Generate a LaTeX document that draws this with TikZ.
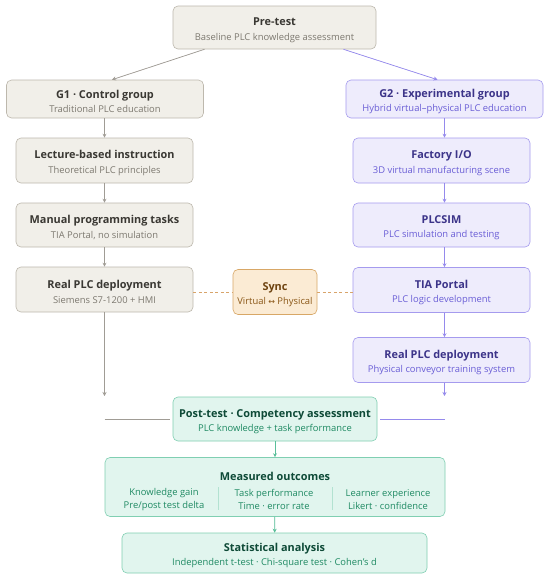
\documentclass[tikz,border=0pt]{standalone}
\usepackage{fontspec}
\setmainfont{Open Sans}
\newfontfamily\symfont{DejaVu Sans}
\usetikzlibrary{arrows.meta,calc}
\definecolor{grayf}{HTML}{F1EFE9}
\definecolor{grayd}{HTML}{BDB8AD}
\definecolor{grayt}{HTML}{3A3833}
\definecolor{grays}{HTML}{7D7970}
\definecolor{grayl}{HTML}{A09C95}
\definecolor{purf}{HTML}{EEECFC}
\definecolor{purd}{HTML}{A59BEE}
\definecolor{purt}{HTML}{3C3489}
\definecolor{purs}{HTML}{6A5ED6}
\definecolor{purl}{HTML}{958AEC}
\definecolor{synf}{HTML}{FBEBD4}
\definecolor{synd}{HTML}{D8A766}
\definecolor{synt}{HTML}{6E4310}
\definecolor{syns}{HTML}{8A5717}
\definecolor{synl}{HTML}{D8A46A}
\definecolor{grnf}{HTML}{E1F5EE}
\definecolor{grnd}{HTML}{80CFB2}
\definecolor{grnt}{HTML}{0E4A37}
\definecolor{grns}{HTML}{1F8A63}
\definecolor{grnl}{HTML}{5BBF9A}
\newcommand{\bx}[3]{{\color{#1t}\fontsize{10.9}{12}\selectfont\bfseries\rule{0pt}{13.5pt}#2}\\[2.5pt]{\color{#1s}\fontsize{9.4}{10}\selectfont #3}}
\newcommand{\sm}[2]{{\color{#1}\fontsize{9.4}{10}\selectfont #2}}
\tikzset{
  x=1pt, y=-1pt,
  box/.style={rounded corners=5pt, line width=0.6pt, align=center, inner sep=0pt},
  gbox/.style={box, fill=grayf, draw=grayd},
  pbox/.style={box, fill=purf, draw=purd},
  sbox/.style={box, fill=synf, draw=synd},
  ebox/.style={box, fill=grnf, draw=grnd},
  tip/.style={-{Stealth[length=4pt,width=4pt]}},
  garr/.style={tip, draw=grayl, fill=grayl, line width=0.7pt},
  parr/.style={tip, draw=purl, fill=purl, line width=0.7pt},
  earr/.style={tip, draw=grnl, fill=grnl, line width=0.7pt},
  dsh/.style={draw=synl, dashed, dash pattern=on 3pt off 2.5pt, line width=0.7pt},
}
\begin{document}
\begin{tikzpicture}
\useasboundingbox (0,0) rectangle (550,579);
\fill[white] (0,0) rectangle (550,579);
% nodes
\node[gbox, minimum width=203, minimum height=43] (pre) at (274.5,27.5) {\bx{gray}{Pre-test}{Baseline PLC knowledge assessment}};
\node[gbox, minimum width=197, minimum height=38] (g1) at (105,99) {\bx{gray}{G1 · Control group}{Traditional PLC education}};
\node[gbox, minimum width=177, minimum height=45] (lec) at (104.5,160.5) {\bx{gray}{Lecture-based instruction}{Theoretical PLC principles}};
\node[gbox, minimum width=177, minimum height=44] (man) at (104.5,225) {\bx{gray}{Manual programming tasks}{TIA Portal, no simulation}};
\node[gbox, minimum width=177, minimum height=45] (rl) at (104.5,289.5) {\bx{gray}{Real PLC deployment}{Siemens S7-1200 + HMI}};
\node[sbox, minimum width=84, minimum height=45] (sync) at (275,292) {\bx{syn}{Sync}{Virtual {\symfont\fontsize{8}{10}\selectfont ↔} Physical}};
\node[pbox, minimum width=197, minimum height=38] (g2) at (444.5,99) {\bx{pur}{G2 · Experimental group}{Hybrid virtual–physical PLC education}};
\node[pbox, minimum width=177, minimum height=45] (fio) at (441.5,160.5) {\bx{pur}{Factory I/O}{3D virtual manufacturing scene}};
\node[pbox, minimum width=177, minimum height=44] (sim) at (441.5,225) {\bx{pur}{PLCSIM}{PLC simulation and testing}};
\node[pbox, minimum width=177, minimum height=45] (tia) at (441.5,290) {\bx{pur}{TIA Portal}{PLC logic development}};
\node[pbox, minimum width=177, minimum height=45] (rr) at (441.5,360) {\bx{pur}{Real PLC deployment}{Physical conveyor training system}};
\node[ebox, minimum width=204, minimum height=44] (post) at (275,419) {\bx{grn}{Post-test · Competency assessment}{PLC knowledge + task performance}};
\node[ebox, minimum width=340, minimum height=59] (meas) at (275,487) {};
\node[ebox, minimum width=305, minimum height=40] (stat) at (274.5,553) {\bx{grn}{Statistical analysis}{Independent t-test · Chi-square test · Cohen's d}};
% measured outcomes content
\node[inner sep=0pt] (mt) at (275,476) {\color{grnt}\fontsize{10.9}{12}\selectfont\bfseries Measured outcomes};
\node[inner sep=0pt, align=center] (c1) at (164,499.5) {\sm{grns}{Knowledge gain}\\[1.5pt]\sm{grns}{Pre/post test delta}};
\node[inner sep=0pt, align=center] (c2) at (274,499.5) {\sm{grns}{Task performance}\\[1.5pt]\sm{grns}{Time · error rate}};
\node[inner sep=0pt, align=center] (c3) at (388,499.5) {\sm{grns}{Learner experience}\\[1.5pt]\sm{grns}{Likert · confidence}};
\draw[grnd!60, line width=0.6pt] (218,487) -- (218,510);
\draw[grnd!60, line width=0.6pt] (332,487) -- (332,510);
% connectors
\draw[garr] ([xshift=-70]pre.south) -- ([xshift=7]g1.north);
\draw[parr] ([xshift=69]pre.south) -- ([xshift=-7]g2.north);
\draw[garr] (g1.south -| lec.north) -- (lec.north);
\draw[garr] (lec) -- (man);
\draw[garr] (man) -- (rl);
\coordinate (lend) at (104.5,396);
\coordinate (rend) at (444.5,396);
\draw[garr] (rl.south) -- (lend);
\draw[parr] (g2.south) -- (fio.north -| g2.south);
\draw[parr] (fio.south -| g2.south) -- (sim.north -| g2.south);
\draw[parr] (sim.south -| g2.south) -- (tia.north -| g2.south);
\draw[parr] (tia.south -| g2.south) -- (rr.north -| g2.south);
\draw[parr] (rr.south -| g2.south) -- (rend);
\draw[grayl, line width=0.8pt] (lend |- post.west) -- ([xshift=-3]post.west);
\draw[purl, line width=0.8pt] ([xshift=3]post.east) -- (rend |- post.east);
\draw[dsh] (rl.east |- sync.west) -- (sync.west);
\draw[dsh] (sync.east) -- (tia.west |- sync.east);
\draw[earr] (post) -- (meas);
\draw[earr] (meas) -- (stat);
\end{tikzpicture}
\end{document}
